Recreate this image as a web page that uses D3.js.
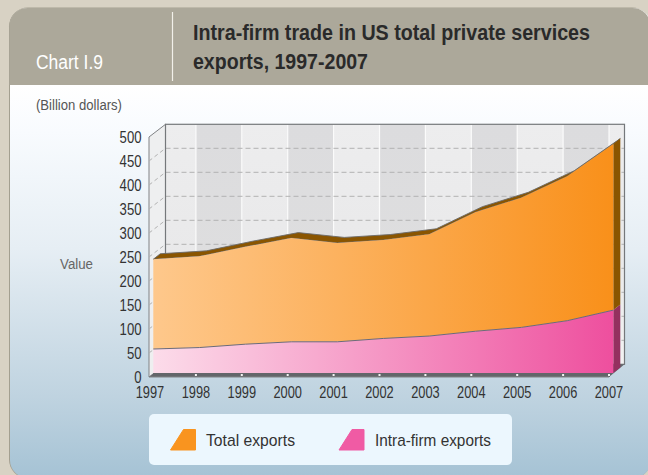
<!DOCTYPE html>
<html><head><meta charset="utf-8">
<script src="https://cdnjs.cloudflare.com/ajax/libs/d3/7.9.0/d3.min.js"></script>
<style>html,body{margin:0;padding:0;background:#d8d2c4;overflow:hidden}text{font-family:"Liberation Sans",Arial,sans-serif}</style>
</head><body><svg id="c" width="648" height="475"></svg>
<script>
const years=[1997,1998,1999,2000,2001,2002,2003,2004,2005,2006,2007];
const totalExports=[237,243,263,281,271,277,289,335,365,410,477];
const intraFirm=[50,53,60,65,65,72,77,87,95,109,131];
const yTicks=[0,50,100,150,200,250,300,350,400,450,500];
const seriesNames=["Total exports","Intra-firm exports"];

const svg=d3.select("#c");
const defs=svg.append("defs");
function grad(id,stops,v){const g=defs.append("linearGradient").attr("id",id).attr("x1",0).attr("y1",0).attr("x2",v?0:1).attr("y2",v?1:0);
 stops.forEach(s=>g.append("stop").attr("offset",s[0]).attr("stop-color",s[1]));return g;}
grad("bg",[[0,"#ffffff"],[0.12,"#f8fbfe"],[0.42,"#e6eef4"],[0.8,"#bfd3e0"],[1,"#a6c3d5"]],true)
 .attr("gradientUnits","userSpaceOnUse").attr("y1",85).attr("y2",475);
grad("org",[[0,"#fec88c"],[1,"#f9901a"]]);
grad("pnk",[[0,"#fcdcea"],[1,"#ee4f9e"]]);
grad("wallL",[[0,"#ededee"],[0.55,"#e9e9ea"],[1,"#f2f2f2"]],true);
grad("wallD",[[0,"#dcdcde"],[0.6,"#dededf"],[1,"#e6e6e6"]],true);

// squeezed text helper: real text, fitted to the reference width
function label(x,y,size,str,width,fill,anchor,weight){
 return svg.append("text").attr("x",x).attr("y",y).attr("font-size",size).attr("fill",fill)
  .attr("text-anchor",anchor||"start").attr("font-weight",weight||"normal")
  .attr("textLength",width).attr("lengthAdjust","spacingAndGlyphs").text(str);
}

// panel
svg.append("rect").attr("x",9).attr("y",7.5).attr("width",642).attr("height",471).attr("rx",19).attr("fill","#a39f90");
svg.append("rect").attr("x",10).attr("y",8).attr("width",641).attr("height",470).attr("rx",18).attr("fill","url(#bg)");
const clip=defs.append("clipPath").attr("id","hd");
clip.append("rect").attr("x",0).attr("y",0).attr("width",648).attr("height",85);
svg.append("rect").attr("x",9.5).attr("y",8).attr("width",641).attr("height",120).attr("rx",18).attr("fill","#aca89a").attr("clip-path","url(#hd)");
svg.append("line").attr("x1",172.5).attr("x2",172.5).attr("y1",12).attr("y2",81).attr("stroke","#f2f0ea").attr("stroke-width",1.2);
label(36,69,19.5,"Chart I.9",67,"#fff");
label(193,40,22,"Intra-firm trade in US total private services",397,"#2a2a2a","start","bold");
label(193,69,22,"exports, 1997-2007",175,"#2a2a2a","start","bold");
label(36,110,15.5,"(Billion dollars)",86,"#555");
label(60,269,15.5,"Value",33,"#666");

// scales
const xTick=d3.scalePoint().domain(years).range([150,609]);
const xArea=d3.scalePoint().domain(years).range([153.3,613.3]);
const yFront=d3.scaleLinear().domain([0,500]).range([377,137]);
const yArea=d3.scaleLinear().domain([0,500]).range([373,133]);
const yBack=d3.scaleLinear().domain([0,500]).range([364.3,124.3]);
const backL=165.5,backR=624.5,frontL=149;

// back wall stripes
const edges=[backL,...years.slice(1).map(xTick),backR];
d3.pairs(edges).forEach((p,i)=>{
 svg.append("rect").attr("x",p[0]).attr("y",yBack(500)).attr("width",p[1]-p[0]).attr("height",yBack(0)-yBack(500)).attr("fill",i%2?"url(#wallD)":"url(#wallL)");
 if(i>0) svg.append("line").attr("x1",p[0]).attr("x2",p[0]).attr("y1",yBack(500)).attr("y2",yBack(0)).attr("stroke","#fbfbfb").attr("stroke-width",1.2);
});
// left wall
svg.append("path").attr("d",`M${frontL},${yFront(500)}L${backL},${yBack(500)}L${backL},${yBack(0)}L${frontL},${yFront(0)}Z`).attr("fill","#eeeff0").attr("stroke","#808285");
// grid
yTicks.filter(d=>d>0&&d<500).forEach(d=>{
 svg.append("line").attr("x1",backL).attr("x2",backR).attr("y1",yBack(d)).attr("y2",yBack(d)).attr("stroke","#b2b2b2").attr("stroke-dasharray","5 3");
 svg.append("line").attr("x1",frontL).attr("x2",backL).attr("y1",yFront(d)).attr("y2",yBack(d)).attr("stroke","#b2b2b2").attr("stroke-dasharray","4 3");
});
svg.append("rect").attr("x",backL).attr("y",yBack(500)).attr("width",backR-backL).attr("height",yBack(0)-yBack(500)).attr("fill","none").attr("stroke","#75787b").attr("stroke-width",1.2);

// floor
const fr=xTick(2007);
svg.append("path").attr("d",`M${frontL},${yFront(0)}L${backL},${yBack(0)}L${backR},${yBack(0)}L${fr},${yFront(0)}Z`).attr("fill","#63666a");

// extruded top bands and area fronts
const dx=7,dy=-5.5;
function topBand(vals,fill){
 const top=years.map((y,i)=>[xArea(y),yArea(vals[i])]);
 const back=top.map(p=>[p[0]+dx,p[1]+dy]).reverse();
 svg.append("path").attr("d",d3.line()([...top,...back])+"Z").attr("fill",fill).attr("stroke","#6b6b6b").attr("stroke-width",.9);
}
function side(v0,v1,fill){
 const x=xArea(2007);
 svg.append("path").attr("d",`M${x},${yArea(v0)}L${x+dx},${yArea(v0)+dy}L${x+dx},${yArea(v1)+dy}L${x},${yArea(v1)}Z`).attr("fill",fill);
}
const nTop=totalExports[totalExports.length-1],nMid=intraFirm[intraFirm.length-1];
topBand(totalExports,"#8a5500");
side(0,nMid,"#94305f");
side(nMid,nTop,"#8a5500");
const areaOf=(lo,hi)=>d3.area().x((d,i)=>xArea(years[i])).y0((d,i)=>yArea(lo[i])).y1((d,i)=>yArea(hi[i]));
const zeros=years.map(()=>0);
svg.append("path").attr("d",areaOf(intraFirm,totalExports)(years)).attr("fill","url(#org)");
svg.append("path").attr("d",areaOf(zeros,intraFirm)(years)).attr("fill","url(#pnk)");
const edge=vals=>d3.line().x((d,i)=>xArea(years[i])).y((d,i)=>yArea(vals[i]))(years);
svg.append("path").attr("d",edge(intraFirm)).attr("fill","none").attr("stroke","#6b6b78").attr("stroke-width",1);
// front floor stripe
svg.append("rect").attr("x",xArea(1997)).attr("y",yArea(0)).attr("width",fr-xArea(1997)+1).attr("height",yFront(0)-yArea(0)).attr("fill","#63666a");
svg.append("line").attr("x1",frontL).attr("x2",fr).attr("y1",yFront(0)).attr("y2",yFront(0)).attr("stroke","#808285");
years.slice(1).forEach(y=>svg.append("rect").attr("x",xTick(y)-1).attr("y",yFront(0)-3).attr("width",2).attr("height",2).attr("fill","#f4f4f4"));

// labels
yTicks.forEach(d=>label(141.5,yFront(d)+5.5,16,d,String(d).length*7.3,"#333","end"));
years.forEach(y=>label(xTick(y),398,16.5,y,28.5,"#333","middle"));

// legend
svg.append("rect").attr("x",149).attr("y",414).attr("width",363).attr("height",51).attr("rx",5).attr("fill","#ecf7fe");
const swatches=[["#f9941f",170.5],["#f05ba4",339]];
swatches.forEach((s,i)=>{
 const x=s[1];
 svg.append("path").attr("d",`M${x},450L${x+25},450L${x+25},429.5L${x+13},429.5Z`).attr("fill",s[0]).attr("stroke",s[0]).attr("stroke-linejoin","round");
 label([206,375][i],446,17,seriesNames[i],[89,116][i],"#333");
});
</script></body></html>
